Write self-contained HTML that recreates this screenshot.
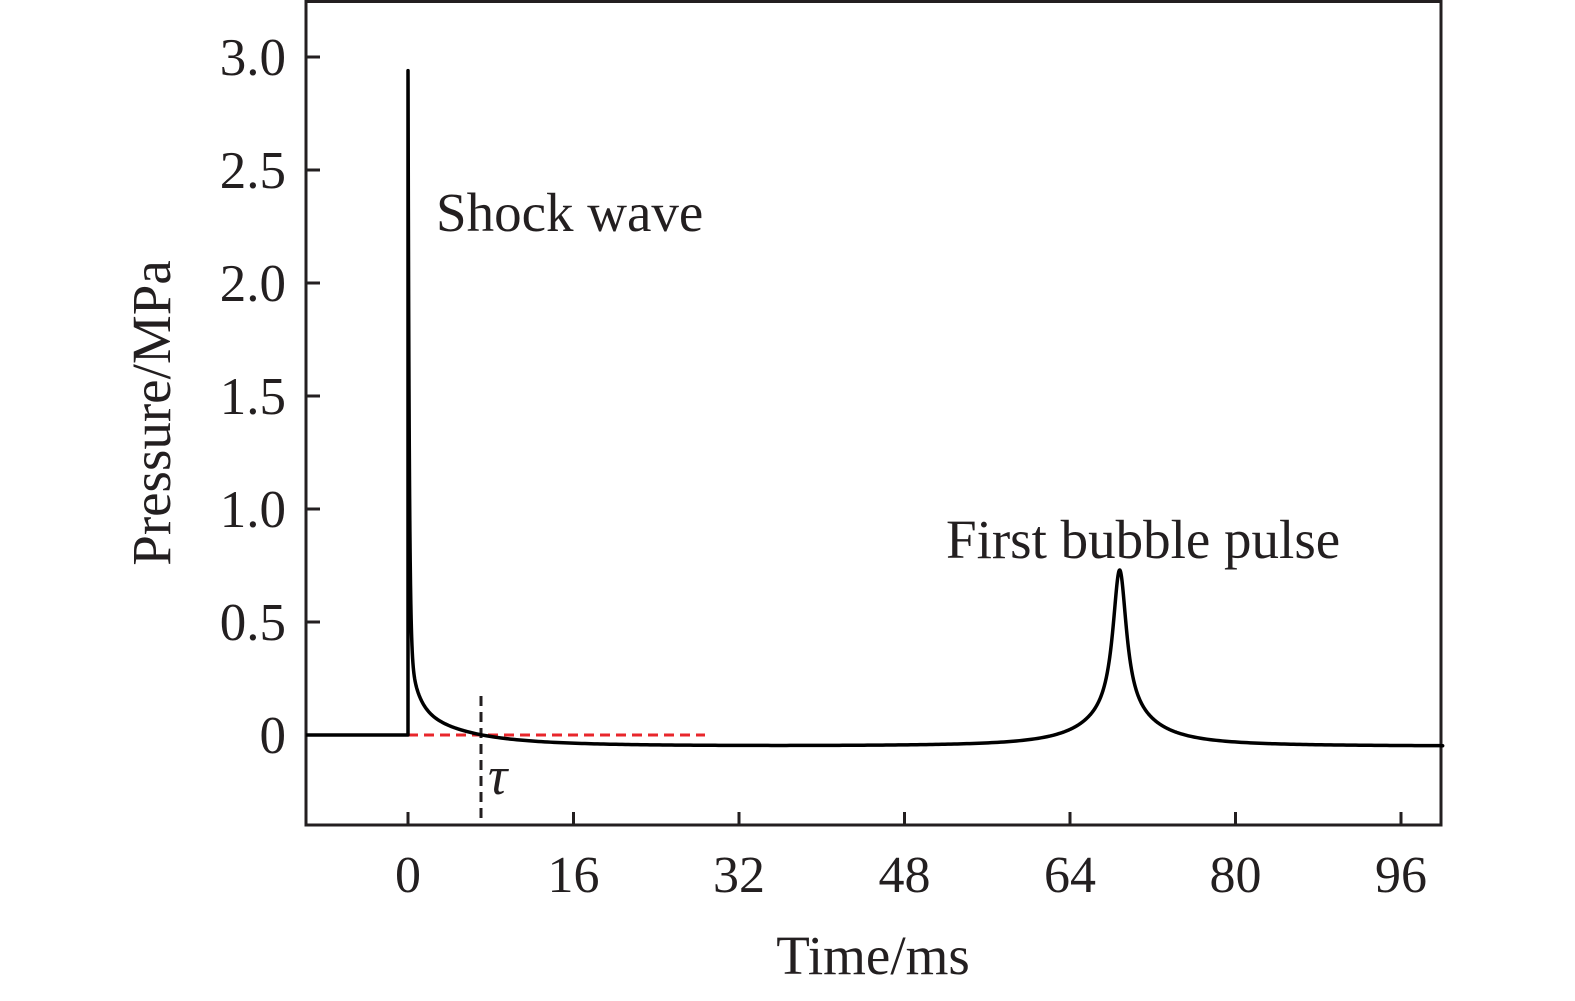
<!DOCTYPE html>
<html><head><meta charset="utf-8"><style>
html,body{margin:0;padding:0;background:#fff;}
svg text{font-family:"Liberation Serif",serif;fill:#231f20;}
</style></head><body>
<svg id="s" width="1575" height="996" viewBox="0 0 1575 996" xmlns="http://www.w3.org/2000/svg">
<rect x="306" y="1.5" width="1135" height="823.5" fill="none" stroke="#231f20" stroke-width="3"/>
<g stroke="#231f20" stroke-width="3">
<line x1="408" y1="825" x2="408" y2="812"/><line x1="573.5" y1="825" x2="573.5" y2="812"/>
<line x1="739" y1="825" x2="739" y2="812"/><line x1="904.5" y1="825" x2="904.5" y2="812"/>
<line x1="1070" y1="825" x2="1070" y2="812"/><line x1="1235.5" y1="825" x2="1235.5" y2="812"/>
<line x1="1401" y1="825" x2="1401" y2="812"/>
<line x1="306" y1="57" x2="320" y2="57"/><line x1="306" y1="170" x2="320" y2="170"/>
<line x1="306" y1="283" x2="320" y2="283"/><line x1="306" y1="396" x2="320" y2="396"/>
<line x1="306" y1="509" x2="320" y2="509"/><line x1="306" y1="622" x2="320" y2="622"/>
<line x1="306" y1="735" x2="320" y2="735"/>
</g>
<g font-size="53" text-anchor="end">
<text x="286" y="75">3.0</text><text x="286" y="188">2.5</text><text x="286" y="301">2.0</text>
<text x="286" y="414">1.5</text><text x="286" y="527">1.0</text><text x="286" y="640">0.5</text>
<text x="286" y="753">0</text>
</g>
<g font-size="52" text-anchor="middle">
<text x="408" y="892">0</text><text x="573.5" y="892">16</text><text x="739" y="892">32</text>
<text x="904.5" y="892">48</text><text x="1070" y="892">64</text><text x="1235.5" y="892">80</text>
<text x="1401" y="892">96</text>
</g>
<text x="873" y="974" font-size="55" text-anchor="middle">Time/ms</text>
<text transform="translate(170,413) rotate(-90)" font-size="55" text-anchor="middle">Pressure/MPa</text>
<text x="436" y="231" font-size="55">Shock wave</text>
<text x="946" y="558" font-size="55">First bubble pulse</text>
<text x="488" y="794" font-size="54" font-style="italic">τ</text>
<line x1="408" y1="735" x2="705" y2="735" stroke="#e8262b" stroke-width="3" stroke-dasharray="10,6"/>
<line x1="481" y1="696" x2="481" y2="825" stroke="#231f20" stroke-width="3" stroke-dasharray="10,6"/>
<path id="c" fill="none" stroke="#000" stroke-width="3.5" stroke-linejoin="round"/>
</svg>
<script>
(function(){
function p(t){
 var d=t-68.8, d2=d*d;
 var b=0.64*0.64/(0.64+d2)+0.14*16/(16+d2);
 if(t<0)return 0;
 return 2.6*Math.exp(-t/0.12)+0.25*Math.exp(-t/0.8)+0.15*Math.exp(-t/4)-0.05*(1-Math.exp(-t/10))+b;
}
function X(t){return 408+10.344*t;}
function Y(v){return 735-226*v;}
var d="M306,735 L408,735 L408,"+Y(2.94).toFixed(1);
var t=0.005;
while(t<100.2){
 d+=" L"+X(t).toFixed(2)+","+Y(Math.min(p(t),2.94)).toFixed(2);
 t+= t<3?0.01:(Math.abs(t-68.8)<6?0.03:0.3);
}
d+=" L1441,"+Y(p(100.3)).toFixed(2);
document.getElementById("c").setAttribute("d",d);
})();
</script>
</body></html>
